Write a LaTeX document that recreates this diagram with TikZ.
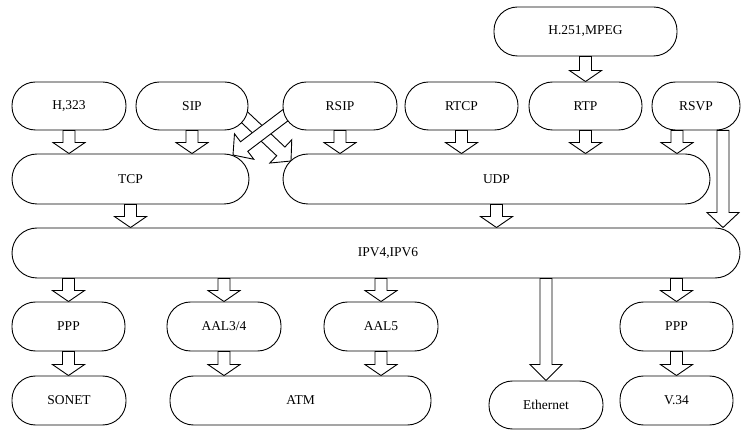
\documentclass[tikz,border=0pt]{standalone}
\usepackage{fontspec}
\setmainfont{Liberation Serif}
\usetikzlibrary{calc}
\pgfdeclarelayer{bg}
\pgfsetlayers{bg,main}
\tikzset{
  box/.style={draw, fill=white, line width=0.9pt, rounded corners=23.5pt, inner sep=0pt,
    font=\fontsize{13.5pt}{15pt}\selectfont},
  arr/.style={draw, fill=white, line width=0.9pt, line join=miter},
}
\newcommand\barrow[3][11]{%
  \coordinate (ba) at (#2);
  \coordinate (bb) at (#3);
  \coordinate (bc) at ($(bb)!#1pt!(ba)$);
  \path[arr] ($(ba)!6pt!90:(bb)$) -- ($(bc)!6pt!90:(bb)$) -- ($(bc)!16pt!90:(bb)$) -- (bb)
    -- ($(bc)!16pt!-90:(bb)$) -- ($(bc)!6pt!-90:(bb)$) -- ($(ba)!6pt!-90:(bb)$) -- cycle;
}
\begin{document}
\begin{tikzpicture}[x=1pt,y=-1pt]
\useasboundingbox (0,0) rectangle (742,430);
% row 1
\node[box, minimum width=183pt, minimum height=49pt] (h251) at (585.5,31.5) {H.251,MPEG};
% row 2
\node[box, minimum width=114pt, minimum height=48pt] (h323) at (69,106) {H,323};
\node[box, minimum width=112pt, minimum height=48pt] (sip) at (192,106) {SIP};
\node[box, minimum width=114pt, minimum height=48pt] (rsip) at (340,106) {RSIP};
\node[box, minimum width=113pt, minimum height=48pt] (rtcp) at (461.5,106) {RTCP};
\node[box, minimum width=113pt, minimum height=48pt] (rtp) at (585.5,106) {RTP};
\node[box, minimum width=88pt, minimum height=48pt] (rsvp) at (696,106) {RSVP};
% row 3
\node[box, minimum width=237pt, minimum height=50pt, rounded corners=25pt] (tcp) at (130.5,179) {TCP};
\node[box, minimum width=427pt, minimum height=50pt, rounded corners=25pt] (udp) at (496.5,179) {UDP};
% row 4
\node[box, minimum width=728pt, minimum height=50pt, rounded corners=25pt] (ipv) at (376,253) {\hspace{24pt}IPV4,IPV6};
% row 5
\node[box, minimum width=113pt, minimum height=49pt] (ppp1) at (68.5,326.5) {PPP};
\node[box, minimum width=114pt, minimum height=49pt] (aal34) at (224,326.5) {AAL3/4};
\node[box, minimum width=114pt, minimum height=49pt] (aal5) at (381,326.5) {AAL5};
\node[box, minimum width=113pt, minimum height=49pt] (ppp2) at (676.5,326.5) {PPP};
% row 6
\node[box, minimum width=114pt, minimum height=49pt] (sonet) at (69,400.5) {SONET};
\node[box, minimum width=261pt, minimum height=49pt] (atm) at (300.5,400.5) {ATM};
\node[box, minimum width=114pt, minimum height=48pt] (eth) at (546,405) {Ethernet};
\node[box, minimum width=113pt, minimum height=49pt] (v34) at (676.5,400.5) {V.34};
% helper coordinates
\coordinate (rsvpa) at ([xshift=-19pt]rsvp.south);
\coordinate (rsvpb) at ([xshift=27pt]rsvp.south);
\coordinate (sipout) at (240,113);
\coordinate (udpin) at (291,161);
\coordinate (rsipout) at (291,111);
\coordinate (tcpin) at (233,155);
\begin{pgfonlayer}{bg}
\barrow{h251.south}{rtp.north}
\barrow{h323.south}{h323.south |- tcp.north}
\barrow{sip.south}{sip.south |- tcp.north}
\barrow{rsip.south}{rsip.south |- udp.north}
\barrow{rtcp.south}{rtcp.south |- udp.north}
\barrow{rtp.south}{rtp.south |- udp.north}
\barrow{rsvpa}{rsvpa |- udp.north}
\barrow[15]{rsvpb}{rsvpb |- ipv.north}
\barrow{tcp.south}{tcp.south |- ipv.north}
\barrow{udp.south}{udp.south |- ipv.north}
\barrow{ppp1.north |- ipv.south}{ppp1.north}
\barrow{aal34.north |- ipv.south}{aal34.north}
\barrow{aal5.north |- ipv.south}{aal5.north}
\barrow[16]{eth.north |- ipv.south}{eth.north}
\barrow{ppp2.north |- ipv.south}{ppp2.north}
\barrow{ppp1.south}{ppp1.south |- sonet.north}
\barrow{aal34.south}{aal34.south |- atm.north}
\barrow{aal5.south}{aal5.south |- atm.north}
\barrow{ppp2.south}{v34.north}
\barrow[14]{sipout}{udpin}
\barrow[14]{rsipout}{tcpin}
\end{pgfonlayer}
\end{tikzpicture}
\end{document}
